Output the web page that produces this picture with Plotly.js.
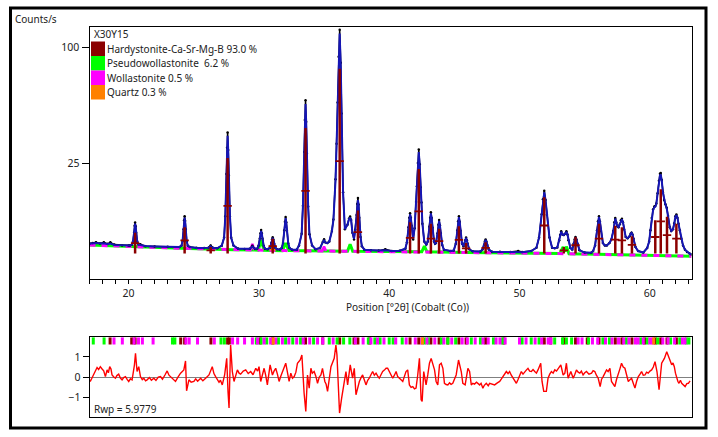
<!DOCTYPE html>
<html><head><meta charset="utf-8">
<script src="https://cdn.plot.ly/plotly-3.0.1.min.js"></script>
<style>html,body{margin:0;padding:0;background:#fff}#chart{width:718px;height:437px}</style>
</head><body><div id="chart"></div>
<script>
// ---------- DATA (counts/s vs position °2θ) ----------
const sampleName = "X30Y15";
const phaseNames = ["Hardystonite-Ca-Sr-Mg-B 93.0 %", "Pseudowollastonite  6.2 %", "Wollastonite 0.5 %", "Quartz 0.3 %"];
const phaseColors = ["#8B0000", "#00FF00", "#FF00FF", "#FF8000"];
const xTickVals = [20, 30, 40, 50, 60];
const yTickVals = [25, 100];
const resTickVals = [-1, 0, 1];
const rwpText = "Rwp = 5.9779";

const twoTheta = [
 17.0,17.25,17.5,17.8,18.1,18.4,18.6,18.9,19.5,20.0,
 20.1,20.26,20.34,20.42,20.46,20.5,20.54,20.58,20.66,20.74,20.9,
 21.3,22.0,23.0,23.9,
 24.06,24.14,24.22,24.26,24.3,24.34,24.38,24.46,24.54,24.7,
 25.2,25.8,26.15,26.3,26.45,26.8,27.15,
 27.33,27.42,27.51,27.555,27.6,27.645,27.69,27.78,27.87,28.05,
 28.4,28.9,29.3,29.5,29.7,
 29.87,29.97,30.07,30.12,30.17,30.22,30.27,30.37,30.47,30.65,
 30.86,30.96,31.01,31.06,31.11,31.16,31.26,31.4,
 31.6,31.75,31.85,31.95,32.0,32.05,32.1,32.15,32.25,32.35,32.55,
 32.9,33.08,33.28,33.38,33.48,33.53,33.58,33.63,33.68,33.78,33.88,34.08,
 34.35,34.7,34.9,35.0,35.1,35.25,35.4,
 35.6,35.72,35.88,35.96,36.04,36.12,36.2,36.28,36.34,36.46,36.6,
 36.8,36.92,37.0,37.08,37.18,37.3,37.4,37.5,37.55,37.6,37.65,37.7,37.8,37.9,38.1,
 38.6,39.2,39.7,40.2,40.8,
 41.24,41.36,41.48,41.54,41.6,41.66,41.72,41.84,41.95,42.06,42.13,42.2,42.27,42.34,42.41,42.48,42.55,42.69,
 42.85,42.96,43.08,43.14,43.2,43.26,43.32,43.44,43.52,43.59,43.71,43.77,43.83,43.89,43.95,44.07,44.2,44.7,
 44.95,45.11,45.23,45.29,45.35,45.41,45.47,45.59,45.7,45.78,45.84,45.9,45.96,46.02,46.14,46.4,
 47.0,47.16,47.28,47.34,47.4,47.46,47.52,47.64,47.9,
 48.5,49.3,49.9,50.2,50.9,51.3,
 51.5,51.7,51.8,51.9,52.0,52.1,52.3,52.5,52.7,
 52.9,53.05,53.12,53.2,53.3,53.4,53.5,53.6,53.68,53.75,53.9,54.05,54.15,54.23,54.3,54.37,54.45,54.6,55.0,55.5,
 55.65,55.8,55.95,56.025,56.1,56.175,56.25,56.4,56.55,56.7,
 56.9,57.05,57.2,57.275,57.35,57.425,57.5,57.6,57.7,57.78,57.86,57.94,58.02,58.15,58.3,58.45,58.53,58.6,58.67,58.75,58.9,59.1,
 59.5,59.8,59.95,60.05,60.15,60.25,60.35,60.42,60.5,60.6,60.7,60.78,60.84,60.92,61.0,61.1,61.2,61.3,61.4,61.53,61.65,61.78,61.88,61.96,62.04,62.12,62.2,62.3,62.42,62.55,62.7,62.86,63.05,63.2
];
const yCalc = [
 2.3,2.35,2.4,2.35,2.38,2.25,2.35,2.15,2.1,2.05,
 2.09,2.2,2.63,3.98,5.13,5.7,5.13,3.98,2.63,2.2,2.15,
 2.02,1.97,1.92,1.9,
 2.07,2.66,4.55,6.17,7.0,6.17,4.55,2.66,2.07,1.9,
 1.8,1.78,1.82,2.0,1.82,1.75,2.07,
 3.16,7.2,19.95,30.9,38.2,30.9,19.95,7.2,3.16,2.07,
 1.7,1.66,1.7,1.95,1.7,
 1.71,2.02,3.0,3.84,4.3,3.84,3.0,2.02,1.71,1.66,
 1.82,2.38,2.86,3.15,2.86,2.38,1.82,1.64,
 1.62,1.78,2.39,4.31,5.96,6.9,5.96,4.31,2.39,1.78,1.6,
 1.6,2.09,3.74,9.84,29.3,45.9,57.0,45.9,29.3,9.84,3.74,2.09,
 1.65,1.8,2.5,2.85,2.45,2.4,2.6,
 4.2,6.5,18.1,33,56.5,89.9,112,85,50,14,4.6,
 5.5,6.7,7.0,6.4,4.0,3.0,4.5,7.5,10.2,11.6,10.2,7.0,3.3,2.0,1.6,
 1.55,1.5,1.55,1.46,1.48,
 1.7,2.5,4.9,6.9,7.8,6.9,5.3,3.0,4.8,10.9,15.7,24.3,30.0,24.3,15.7,10.9,5.7,2.6,
 2.2,2.6,5.0,6.9,8.0,6.9,4.9,2.6,2.3,2.4,3.9,5.4,6.3,5.4,3.9,2.15,1.6,1.45,
 1.5,2.3,4.35,6.1,7.1,6.1,4.35,2.3,2.0,2.3,2.8,3.15,2.8,2.3,1.65,1.42,
 1.4,1.62,2.15,2.6,2.85,2.6,2.15,1.62,1.38,
 1.36,1.35,1.36,1.34,1.45,1.82,
 3.2,7.7,11.5,14.0,11.5,7.7,3.2,1.82,1.75,
 1.85,2.8,3.6,4.15,3.7,3.6,3.8,4.15,3.7,2.8,1.8,1.6,2.3,2.9,3.25,2.9,2.3,1.55,1.3,1.28,
 1.46,2.1,4.3,6.1,7.15,6.1,4.3,2.4,2.1,2.1,
 2.4,2.9,4.3,5.9,6.8,6.0,5.2,5.0,5.6,6.3,6.6,6.0,4.6,3.3,3.1,3.4,3.8,3.95,3.7,3.0,1.9,1.45,
 1.3,1.8,2.6,4.4,6.8,8.8,9.6,9.7,10.5,13.5,17.5,20.0,20.3,18.0,14.0,11.5,10.3,9.3,7.4,5.0,4.3,4.6,5.8,7.2,7.6,7.0,5.7,4.4,3.0,2.1,1.6,1.36,1.2,1.12
];
const yObs = [
 2.35,2.4,2.5,2.35,2.5,2.3,2.5,2.2,2.1,2.1,
 2.09,2.2,2.63,4.0,5.3,5.95,5.2,4.0,2.63,2.25,2.25,
 2.0,1.97,1.95,1.9,
 2.07,2.7,4.6,6.4,7.35,6.3,4.6,2.66,2.07,1.9,
 1.82,1.8,1.85,2.1,1.85,1.76,2.07,
 3.2,7.3,20.5,32,40.0,31,20,7.2,3.2,2.1,
 1.72,1.68,1.7,2.05,1.7,
 1.71,2.05,3.05,3.9,4.45,3.9,3.0,2.02,1.71,1.66,
 1.82,2.4,2.9,3.25,2.9,2.38,1.82,1.64,
 1.62,1.78,2.4,4.4,6.1,7.15,6.0,4.31,2.39,1.78,1.6,
 1.6,2.1,3.8,10,30,47,59.5,46,29.3,9.8,3.74,2.1,
 1.65,1.8,2.55,2.95,2.5,2.4,2.6,
 4.3,6.6,18.5,34,58,92,115.5,87,51,14,4.6,
 5.5,6.8,7.25,6.5,4.0,2.9,4.5,7.6,10.5,12.2,10.3,7.0,3.3,2.0,1.6,
 1.55,1.5,1.65,1.46,1.48,
 1.7,2.5,5.0,7.0,8.05,7.0,5.3,2.9,4.8,11,16,25,31.2,24.5,15.7,10.9,5.7,2.6,
 2.2,2.6,5.1,7.0,8.3,6.9,4.9,2.6,2.3,2.4,3.9,5.5,6.45,5.4,3.9,2.15,1.6,1.45,
 1.5,2.3,4.4,6.2,7.3,6.1,4.35,2.3,2.0,2.3,2.8,3.2,2.8,2.3,1.65,1.42,
 1.4,1.62,2.15,2.6,2.9,2.6,2.15,1.62,1.38,
 1.37,1.36,1.45,1.36,1.45,1.82,
 3.2,7.8,11.8,14.5,11.6,7.7,3.2,1.82,1.75,
 1.85,2.8,3.6,4.25,3.7,3.6,3.8,4.25,3.7,2.8,1.8,1.6,2.3,2.9,3.3,2.9,2.3,1.55,1.3,1.28,
 1.46,2.1,4.4,6.2,7.3,6.1,4.3,2.4,2.1,2.1,
 2.4,2.9,4.3,6.0,6.95,6.0,5.2,5.0,5.6,6.4,6.75,6.0,4.6,3.3,3.1,3.4,3.8,4.0,3.7,3.0,1.9,1.45,
 1.3,1.8,2.6,4.4,6.9,9.0,9.8,9.9,10.6,13.7,18,20.6,20.9,18.2,14.0,11.6,10.4,9.45,7.4,5.0,4.3,4.6,5.8,7.3,7.75,7.0,5.7,4.4,3.0,2.1,1.6,1.36,1.2,1.12
];

// background
const bgX = [17,18,20,22,24,26,28,30,32,34,36,38,40,42,44,46,48,50,52,54,56,58,60,62,63.2];
const bgY = [2.15,2.08,1.95,1.85,1.76,1.68,1.6,1.55,1.5,1.47,1.45,1.42,1.4,1.37,1.34,1.31,1.28,1.25,1.22,1.18,1.14,1.1,1.05,1.0,0.97];

// pseudowollastonite profile
const pwX = [17,20,24,28,29.95,30.17,30.4,31.8,32.05,32.3,36,36.8,37.0,37.2,40,42.5,42.7,42.9,46,50,53.1,53.35,53.48,53.6,53.8,56,60,63.2];
const pwY = [2.15,1.95,1.76,1.6,1.55,2.8,1.54,1.5,2.4,1.5,1.45,1.43,2.24,1.43,1.4,1.37,2.0,1.37,1.31,1.25,1.2,1.9,1.4,1.95,1.19,1.14,1.05,0.97];
// wollastonite bumps
const woX = [29.35,29.5,29.65,null,34.85,35.0,35.15];
const woY = [1.56,2.3,1.56,null,1.46,1.95,1.46];
// quartz bump
const qzX = [30.9,31.06,31.2];
const qzY = [1.52,2.5,1.52];

// hardystonite reflection sticks
const hardyPos = [20.5,24.3,26.3,27.6,31.06,33.58,36.2,37.6,41.6,42.27,43.2,43.83,45.35,45.9,47.4,51.9,53.4,54.3,56.1,57.35,57.86,58.63,60.42,60.84,61.32,62.04];
const hardyInt = [4.0,5.0,1.9,27.2,3.0,42.4,82.3,8.7,6.0,22.5,5.7,4.7,5.2,2.4,2.5,12.4,1.9,3.3,5.7,5.3,5.0,3.4,6.4,15.0,7.2,5.7];
const stickBase = 1.2;

// reflection marker positions for each phase (residual panel)
const hardyMarks = [18.58,20.24,20.5,24.0,24.3,26.32,27.6,27.73,30.1,31.06,33.58,34.9,36.2,37.3,37.6,38.5,41.6,42.27,43.2,43.83,44.5,45.35,45.9,47.4,48.8,51.9,52.4,53.4,54.3,55.2,56.1,57.35,57.86,58.63,59.6,60.42,60.84,61.32,62.04];
const pseudoMarks = [17.29,18.12,23.37,23.55,27.09,27.35,29.8,30.17,30.6,31.5,32.05,32.6,33.2,34.2,35.4,36.0,36.5,36.98,38.4,38.9,39.3,40.0,40.3,41.0,42.7,43.0,44.0,44.5,45.1,46.3,47.0,48.0,48.7,50.2,50.9,51.5,52.7,53.3,53.6,54.0,55.3,56.4,56.9,58.2,59.3,59.8,60.6,61.6,62.3,62.8,63.0];
const wollMarks = [18.88,19.52,20.42,20.76,21.06,21.88,24.4,24.65,25.29,26.58,27.98,28.37,28.9,29.5,29.9,30.4,30.9,31.3,31.8,32.3,32.9,33.4,33.9,34.5,34.9,35.7,37.4,38.0,38.6,39.1,39.6,40.5,41.3,42.0,42.5,42.9,43.5,44.2,44.8,45.6,46.0,46.6,47.2,47.6,48.2,48.5,48.9,50.0,50.5,51.2,51.7,52.2,52.4,54.5,54.8,55.6,56.0,56.6,57.1,57.6,58.0,58.4,58.9,59.1,59.5,60.0,60.2,61.0,61.4,61.9,62.5,62.7];
const quartzMarks = [31.1,42.55,60.3];

// difference curve
const resX = [
 17.0,17.06,17.18,17.32,17.45,17.58,17.7,17.83,17.95,18.09,18.22,18.35,18.45,18.55,18.65,18.73,18.85,
 18.99,19.1,19.24,19.37,19.5,19.62,19.76,19.9,20.01,20.14,20.27,20.45,20.53,20.65,20.78,
 20.91,21.05,21.17,21.3,21.42,21.6,21.75,21.94,22.1,22.28,22.45,22.6,22.8,22.96,23.1,23.22,23.4,23.6,23.8,23.99,24.24,
 24.37,24.45,24.63,24.8,25.01,25.15,25.3,25.53,25.7,25.91,26.05,26.17,26.42,26.55,26.68,26.8,26.94,27.05,
 27.19,27.37,27.53,27.63,27.71,27.83,27.96,28.09,28.22,28.35,28.48,28.6,28.8,
 28.99,29.18,29.37,29.55,29.76,29.9,30.01,30.14,30.4,30.52,30.65,30.86,31.04,31.16,31.29,
 31.42,31.55,31.68,31.81,32.06,32.32,32.45,32.58,32.71,32.84,32.96,33.17,33.3,33.47,
 33.6,33.73,33.86,33.99,34.1,34.24,34.37,34.5,34.63,34.76,34.88,35.06,35.16,35.27,
 35.4,35.53,35.78,35.91,35.99,36.09,36.19,36.35,36.5,36.68,36.81,
 37.01,37.19,37.32,37.45,37.58,37.71,37.84,37.96,38.1,38.22,38.35,38.47,38.6,38.73,38.86,38.99,
 39.12,39.24,39.37,39.5,39.63,39.76,
 39.88,40.01,40.14,40.27,40.4,40.53,40.65,40.78,40.91,41.04,41.17,41.29,41.42,41.55,
 41.68,41.81,41.94,42.06,42.19,42.32,42.45,42.53,42.65,42.83,42.96,43.09,
 43.22,43.35,43.48,43.6,43.73,43.86,43.99,44.12,44.24,44.37,44.5,44.63,44.75,
 44.88,45.01,45.14,45.32,45.53,45.65,45.83,46.04,46.17,46.3,46.42,46.55,46.7,
 46.94,47.05,47.19,47.3,47.45,47.6,47.71,47.9,48.09,48.3,48.48,48.6,48.73,48.86,48.99,49.12,49.24,49.37,49.5,49.63,
 49.76,49.88,50.01,50.14,50.27,50.4,50.52,50.65,50.78,50.91,51.04,51.17,51.3,51.42,51.53,51.63,51.73,
 51.86,52.06,52.19,52.32,52.45,52.58,52.71,52.84,52.96,53.17,53.35,53.48,53.6,
 53.73,53.94,54.12,54.25,54.37,54.5,54.63,54.75,54.88,55.01,55.14,55.33,55.53,55.65,55.78,55.9,56.04,
 56.19,56.3,56.42,56.55,56.68,56.8,56.94,57.06,57.19,57.32,57.45,57.58,57.7,57.83,57.96,58.09,58.22,58.35,
 58.48,58.6,58.73,58.86,58.99,59.12,59.25,59.37,59.5,59.63,59.75,59.88,60.01,60.14,60.27,60.4,60.55,60.71,
 60.91,61.12,61.3,61.48,61.58,61.68,61.78,61.88,61.97,62.06,62.15,62.24,62.35,62.45,62.58,62.71,62.84,
 62.96,63.09
];
const resY = [
 -0.13,-0.21,-0.05,0.11,0.3,0.48,0.38,0.52,0.42,0.31,0.03,0.36,0.22,0.52,0.4,0.11,0.02,
 -0.05,0.08,0.15,-0.04,-0.13,-0.02,0.03,-0.12,-0.21,-0.08,-0.13,0.61,1.18,0.28,0.52,
 0.03,-0.12,-0.05,-0.18,-0.13,-0.02,-0.15,-0.05,-0.16,0.0,0.03,-0.1,0.12,0.31,0.1,0.03,-0.12,-0.21,0.02,0.2,0.36,
 0.8,-0.67,-0.13,-0.25,-0.21,-0.08,-0.2,-0.05,-0.18,-0.05,0.05,0.11,0.52,0.18,0.03,-0.12,-0.25,-0.15,
 -0.38,0.11,0.93,-0.7,-1.52,1.59,0.28,-0.21,0.1,0.36,0.2,0.15,0.3,
 0.36,0.18,0.28,0.12,0.44,0.3,0.52,-0.21,0.44,0.1,-0.38,0.61,0.11,0.3,0.44,
 0.15,-0.21,0.05,0.28,0.69,-0.21,0.2,-0.05,0.03,0.25,0.69,0.85,1.1,-0.79,
 -1.69,0.11,-0.54,0.44,0.2,0.28,0.05,-0.3,0.0,0.11,0.44,-0.21,-0.35,-0.7,
 -0.1,0.52,0.93,1.59,1.1,-0.87,-1.77,-1.03,-0.38,0.28,-0.38,
 0.61,-0.05,0.44,-0.87,-0.45,-0.21,-0.02,0.11,-0.15,-0.38,-0.15,-0.05,0.12,0.28,0.1,0.2,
 0.05,-0.05,0.12,0.28,0.35,0.44,
 0.44,0.25,0.11,-0.05,0.1,0.28,0.03,-0.08,-0.13,-0.21,0.05,0.28,0.36,-0.38,
 -0.5,-0.46,-0.58,-0.54,0.11,0.93,-1.11,-1.2,0.28,-0.38,0.11,0.69,
 0.93,0.61,0.36,-0.21,-0.38,0.61,0.69,0.44,-0.3,-0.36,-0.38,-0.28,-0.35,
 -0.3,-0.1,0.11,0.85,0.28,-0.3,-0.38,0.44,0.28,-0.38,-0.3,-0.34,-0.25,
 -0.38,-0.3,-0.54,-0.4,-0.3,-0.42,-0.3,-0.36,-0.38,-0.28,-0.21,-0.1,0.03,0.15,0.28,0.18,0.28,0.1,-0.05,-0.2,
 -0.3,-0.13,0.1,0.28,0.15,0.28,0.35,0.44,0.3,0.28,0.38,0.28,0.2,0.36,0.5,0.69,-0.21,
 -0.7,-0.7,-0.05,0.15,0.28,0.2,0.36,0.3,0.44,0.61,0.11,0.2,0.69,
 -0.05,0.28,-0.05,0.15,0.36,0.25,0.2,0.3,0.11,0.22,0.28,0.15,0.2,0.32,0.28,0.1,-0.05,
 -0.46,-0.1,0.03,0.22,0.36,0.28,0.44,-0.21,-0.35,-0.46,-0.1,0.11,0.4,0.69,0.5,0.44,0.1,-0.21,
 -0.12,-0.05,-0.3,-0.54,-0.2,0.03,0.15,0.28,0.1,0.11,0.25,0.2,0.3,0.36,0.5,0.77,0.28,-0.62,
 0.69,0.93,1.26,0.93,0.75,0.61,0.7,0.52,0.2,-0.05,-0.2,-0.3,-0.15,-0.3,-0.38,-0.46,-0.32,
 -0.3,-0.18
];

// ---------- BUILD ----------
const W = 718, H = 437;
const fx = v => v / W, fy = v => 1 - v / H;
const sq = v => (v == null ? null : Math.sqrt(v));
const FONT = "Noto Sans, Open Sans, sans-serif";
const TXT = "#222";

const traces = [];
traces.push({x: pwX, y: pwY.map(sq), mode: "lines", line: {color: phaseColors[1], width: 3}, hoverinfo: "skip"});
traces.push({x: bgX, y: bgY.map(sq), mode: "lines", line: {color: phaseColors[2], width: 3, dash: "6px,6px"}, hoverinfo: "skip"});
traces.push({x: woX, y: woY.map(sq), mode: "lines", line: {color: phaseColors[2], width: 2.5}, connectgaps: false, hoverinfo: "skip"});
traces.push({x: qzX, y: qzY.map(sq), mode: "lines", line: {color: phaseColors[3], width: 2.5}, hoverinfo: "skip"});
traces.push({x: twoTheta, y: yObs.map(sq), mode: "lines+markers", line: {color: "#000", width: 1.5}, marker: {color: "#000", size: 2.5}, hoverinfo: "skip"});
traces.push({x: twoTheta, y: yCalc.map(sq), mode: "lines", line: {color: "#1515B5", width: 2}, hoverinfo: "skip"});

const sx = [], sy = [], cx = [], cy = [];
hardyPos.forEach((p, i) => {
  sx.push(p, p, null);
  sy.push(sq(stickBase), sq(hardyInt[i]), null);
  cx.push(p);
  cy.push((sq(stickBase) + sq(hardyInt[i])) / 2);
});
traces.push({x: sx, y: sy, mode: "lines", line: {color: phaseColors[0], width: 2.5}, hoverinfo: "skip"});
traces.push({x: cx, y: cy, mode: "markers", marker: {symbol: "line-ew", size: 6, color: phaseColors[0], line: {color: phaseColors[0], width: 1.8}}, hoverinfo: "skip"});

// reflection marks in residual panel
const markLo = 1.62, markHi = 1.97;
[[hardyMarks, 0], [pseudoMarks, 1], [wollMarks, 2], [quartzMarks, 3]].forEach(([arr, ci]) => {
  const mx = [], my = [];
  arr.forEach(p => { mx.push(p, p, null); my.push(markLo, markHi, null); });
  traces.push({x: mx, y: my, xaxis: "x2", yaxis: "y2", mode: "lines", line: {color: phaseColors[ci], width: 3}, hoverinfo: "skip"});
});
traces.push({x: resX, y: resY, xaxis: "x2", yaxis: "y2", mode: "lines", line: {color: "#FF0000", width: 1.4}, hoverinfo: "skip"});

const xDom = [fx(89.5), fx(691.5)];
const axisCommon = {showline: true, linecolor: "#000", linewidth: 1, mirror: true, showgrid: false, zeroline: false,
  tickfont: {family: FONT, size: 10.5, color: TXT}, tickcolor: "#000"};

const annotations = [
  {text: "Counts/s", x: fx(13), y: fy(19), xanchor: "left", yanchor: "middle"},
  {text: sampleName, x: fx(92), y: fy(34), xanchor: "left", yanchor: "middle"},
  {text: "Position [°2θ] (Cobalt (Co))", x: fx(407), y: fy(307), xanchor: "center", yanchor: "middle"},
  {text: rwpText, x: fx(92), y: fy(409), xanchor: "left", yanchor: "middle"}
];
const swTop = [41.5, 56, 70.5, 85], swH = 14.5;
phaseNames.forEach((n, i) => {
  annotations.push({text: n, x: fx(105), y: fy(swTop[i] + swH / 2), xanchor: "left", yanchor: "middle"});
});
annotations.forEach(a => { a.xref = "paper"; a.yref = "paper"; a.showarrow = false; a.font = {family: FONT, size: 10, color: TXT}; });

const shapes = [
  {type: "rect", xref: "paper", yref: "paper", x0: fx(10.5), x1: fx(706), y0: fy(8), y1: fy(428), line: {color: "#000", width: 3}}
];
phaseColors.forEach((c, i) => {
  shapes.push({type: "rect", xref: "paper", yref: "paper", x0: fx(91), x1: fx(105), y0: fy(swTop[i]), y1: fy(swTop[i] + swH), fillcolor: c, line: {width: 0}});
});

const layout = {
  width: W, height: H, margin: {l: 0, r: 0, t: 0, b: 0, pad: 0},
  paper_bgcolor: "#fff", plot_bgcolor: "#fff", showlegend: false,
  font: {family: FONT, size: 10.5, color: TXT},
  xaxis: Object.assign({}, axisCommon, {domain: xDom, anchor: "y", range: [17, 63.2], tickvals: xTickVals,
    ticks: "outside", ticklen: 4, tickwidth: 1,
    minor: {ticks: "outside", ticklen: 4, dtick: 1, tickcolor: "#000", tickwidth: 1}}),
  yaxis: Object.assign({}, axisCommon, {domain: [fy(279), fy(27)], anchor: "x", range: [0, 10.87],
    tickvals: yTickVals.map(sq), ticktext: yTickVals.map(String), ticks: "outside", ticklen: 7, tickwidth: 1}),
  xaxis2: Object.assign({}, axisCommon, {domain: xDom, anchor: "y2", matches: "x", range: [17, 63.2], showticklabels: false, ticks: ""}),
  yaxis2: Object.assign({}, axisCommon, {domain: [fy(416.7), fy(337.3)], anchor: "x2", range: [-1.95, 1.97],
    tickvals: resTickVals, ticks: "outside", ticklen: 6, tickwidth: 1, zeroline: true, zerolinecolor: "#808080", zerolinewidth: 1}),
  annotations: annotations, shapes: shapes
};

Plotly.newPlot("chart", traces, layout, {staticPlot: true, displayModeBar: false});
</script>
</body></html>
